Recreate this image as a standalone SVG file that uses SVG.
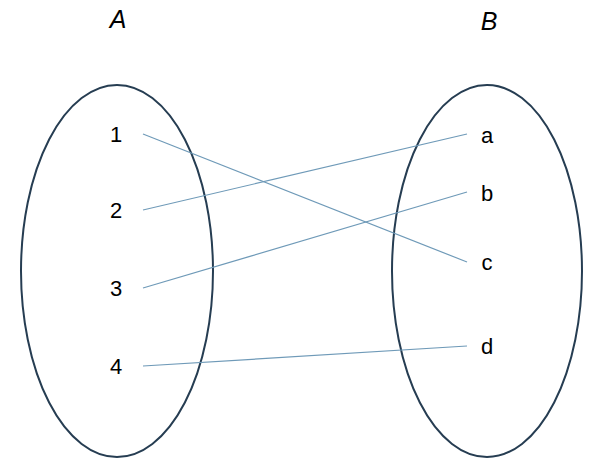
<svg xmlns="http://www.w3.org/2000/svg" width="607" height="471" viewBox="0 0 607 471">
<style>
.set{fill:none;stroke:#263d52;stroke-width:2}
.lbl{font-family:"Liberation Sans",Arial,sans-serif;font-size:22px;fill:#000;text-anchor:middle}
.title{font-family:"Liberation Sans",Arial,sans-serif;font-size:25px;font-style:italic;fill:#000;text-anchor:middle}
.map{stroke:#6f9ab8;stroke-width:1.2;fill:none}
</style>
<rect width="607" height="471" fill="#fff"/>
<g id="setA">
<ellipse class="set" cx="117" cy="271" rx="96" ry="186"/>
<text class="title" x="118" y="28">A</text>
<text class="lbl" x="116" y="142">1</text>
<text class="lbl" x="116" y="218">2</text>
<text class="lbl" x="116" y="296">3</text>
<text class="lbl" x="116" y="374">4</text>
</g>
<g id="setB">
<ellipse class="set" cx="487" cy="271" rx="95" ry="186"/>
<text class="title" x="489" y="30">B</text>
<text class="lbl" x="487" y="143">a</text>
<text class="lbl" x="487" y="201">b</text>
<text class="lbl" x="487" y="270">c</text>
<text class="lbl" x="487" y="354">d</text>
</g>
<g id="connectors">
<line class="map" x1="143" y1="134" x2="467" y2="262"/>
<line class="map" x1="143" y1="210" x2="467" y2="134"/>
<line class="map" x1="143" y1="288" x2="467" y2="192"/>
<line class="map" x1="143" y1="366" x2="467" y2="346"/>
</g>
</svg>
